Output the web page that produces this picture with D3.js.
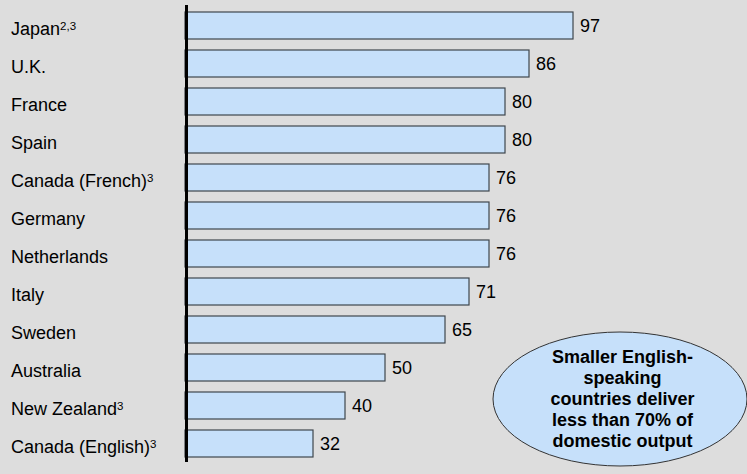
<!DOCTYPE html>
<html>
<head>
<meta charset="utf-8">
<script src="https://cdn.jsdelivr.net/npm/d3@7"></script>
<style>
  html, body { margin: 0; padding: 0; background: #dddddd; }
  svg { display: block; }
</style>
</head>
<body>
<svg id="chart" width="747" height="474"></svg>
<script>
// Countries, their footnote marks and the share of domestic output (%)
const countries = ["Japan", "U.K.", "France", "Spain", "Canada (French)", "Germany",
                   "Netherlands", "Italy", "Sweden", "Australia", "New Zealand", "Canada (English)"];
const footnotes = ["2,3", "", "", "", "3", "", "", "", "", "", "3", "3"];
const values = [97, 86, 80, 80, 76, 76, 76, 71, 65, 50, 40, 32];
const calloutLines = ["Smaller English-", "speaking", "countries deliver", "less than 70% of", "domestic output"];

const width = 747, height = 474;
const svg = d3.select("#chart");
const font = "Liberation Sans, Arial, sans-serif";

svg.append("rect").attr("width", width).attr("height", height).attr("fill", "#dddddd");

const x = d3.scaleLinear().domain([0, 100]).range([185, 585]);
const y = d3.scaleBand().domain(countries).range([4.4, 464.6])
  .paddingInner(11 / 38).paddingOuter(0.2);

// Bars
svg.selectAll("rect.bar").data(countries).join("rect")
  .attr("class", "bar")
  .attr("x", x(0))
  .attr("y", d => y(d))
  .attr("width", (d, i) => x(values[i]) - x(0))
  .attr("height", y.bandwidth())
  .attr("fill", "#c6e0fa")
  .attr("stroke", "#3f464d")
  .attr("stroke-width", 1.2);

// Value labels
svg.selectAll("text.val").data(countries).join("text")
  .attr("class", "val")
  .attr("x", (d, i) => x(values[i]) + 7)
  .attr("y", d => y(d) + y.bandwidth() / 2 + 6)
  .attr("font-family", font)
  .attr("font-size", 18)
  .attr("fill", "#000")
  .text((d, i) => values[i]);

// Category labels with superscript footnotes
const lab = svg.selectAll("text.cat").data(countries).join("text")
  .attr("class", "cat")
  .attr("x", 11)
  .attr("y", d => y(d) + y.bandwidth() / 2 + 9.3)
  .attr("font-family", font)
  .attr("font-size", 18)
  .attr("fill", "#000");
lab.append("tspan").text(d => d);
lab.append("tspan")
  .attr("font-size", 11.5)
  .attr("dy", -4.5)
  .text((d, i) => footnotes[i]);

// Category axis line
svg.append("line")
  .attr("x1", 186.5).attr("x2", 186.5)
  .attr("y1", 5).attr("y2", 462)
  .attr("stroke", "#000").attr("stroke-width", 3);

// Callout ellipse
const cx = 620, cy = 399;
svg.append("ellipse")
  .attr("cx", cx).attr("cy", cy).attr("rx", 127).attr("ry", 67)
  .attr("fill", "#c6e0fa").attr("stroke", "#333").attr("stroke-width", 1);

svg.append("text")
  .attr("font-family", font)
  .attr("font-size", 18)
  .attr("font-weight", "bold")
  .attr("fill", "#000")
  .attr("text-anchor", "middle")
  .selectAll("tspan").data(calloutLines).join("tspan")
  .attr("x", cx + 2.5)
  .attr("y", (d, i) => 363 + i * 21)
  .text(d => d);
</script>
</body>
</html>
